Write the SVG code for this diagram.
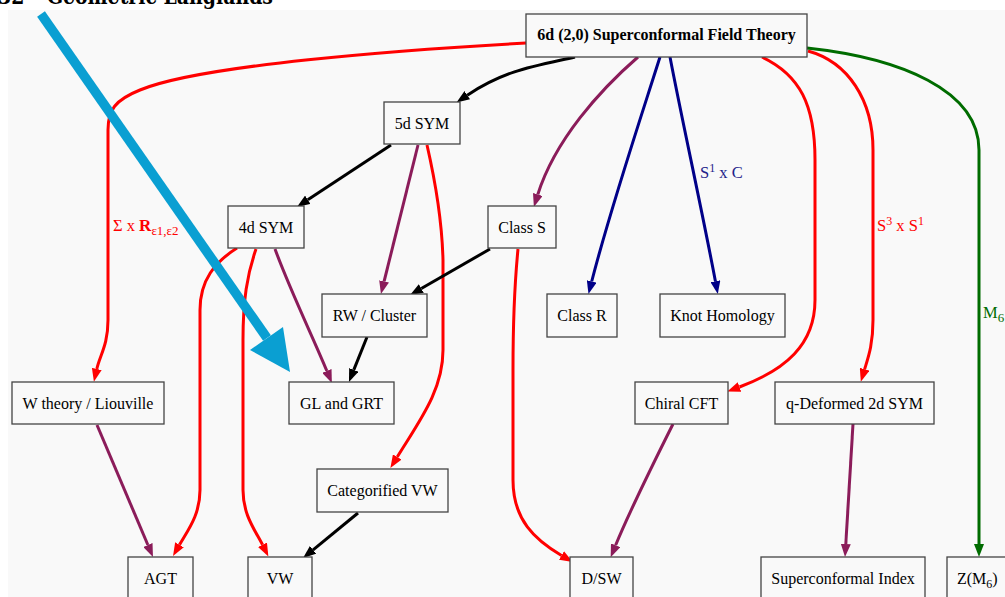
<svg xmlns="http://www.w3.org/2000/svg" width="1005" height="597" viewBox="0 0 1005 597">
<style>
.node rect{fill:#f9f9f9;stroke:#444;stroke-width:1.3}
.node text{font-family:"Liberation Serif","Times New Roman",serif;font-size:16px;fill:#000;text-anchor:middle}
.e{fill:none;stroke-width:3}
.red{stroke:#ff0000}.pur{stroke:#8b1c5a}.blk{stroke:#000}.nav{stroke:#000088}.grn{stroke:#006c00}
.lbl{font-family:"Liberation Serif","Times New Roman",serif;font-size:16.5px}
</style>
<defs>
<marker id="aR" viewBox="0 0 13 10" refX="0" refY="5" markerWidth="13" markerHeight="10" markerUnits="userSpaceOnUse" orient="auto"><path d="M0,0L13,5L0,10z" fill="#ff0000"/></marker>
<marker id="aP" viewBox="0 0 13 10" refX="0" refY="5" markerWidth="13" markerHeight="10" markerUnits="userSpaceOnUse" orient="auto"><path d="M0,0L13,5L0,10z" fill="#8b1c5a"/></marker>
<marker id="aK" viewBox="0 0 13 10" refX="0" refY="5" markerWidth="13" markerHeight="10" markerUnits="userSpaceOnUse" orient="auto"><path d="M0,0L13,5L0,10z" fill="#000"/></marker>
<marker id="aN" viewBox="0 0 13 10" refX="0" refY="5" markerWidth="13" markerHeight="10" markerUnits="userSpaceOnUse" orient="auto"><path d="M0,0L13,5L0,10z" fill="#000088"/></marker>
<marker id="aG" viewBox="0 0 13 10" refX="0" refY="5" markerWidth="13" markerHeight="10" markerUnits="userSpaceOnUse" orient="auto"><path d="M0,0L13,5L0,10z" fill="#006c00"/></marker>
</defs>
<rect x="0" y="0" width="1005" height="597" fill="#ffffff"/>
<rect x="8" y="10" width="997" height="587" fill="#f9f9f9"/>
<text x="-2" y="4" font-family="'DejaVu Serif',serif" font-weight="bold" font-size="22" textLength="275" lengthAdjust="spacingAndGlyphs">32 – Geometric Langlands</text>

<g id="connectors">
<path class="e red" marker-end="url(#aR)" d="M526,43 C400,50 200,65 140,90 C115,100 108,110 108,130 L108,320 C108,345 100,355 96.8,369"/>
<path class="e blk" marker-end="url(#aK)" d="M575,57 C535,66 505,70 467.3,95.2"/>
<path class="e pur" marker-end="url(#aP)" d="M638,57 C600,90 555,140 537.8,194.5"/>
<path class="e nav" marker-end="url(#aN)" d="M660,57 C640,120 610,210 591.7,281.5"/>
<path class="e nav" marker-end="url(#aN)" d="M670,57 C682,120 702,210 715.4,281.2"/>
<path class="e red" marker-end="url(#aR)" d="M762,57 C800,75 815,105 815,160 L815,300 C815,345 785,370 739.5,387"/>
<path class="e red" marker-end="url(#aR)" d="M808,51 C848,62 873,100 873,150 L873,320 C873,345 868,358 864.6,369.2"/>
<path class="e grn" marker-end="url(#aG)" d="M807,48 C900,58 979,90 979,150 L979,544"/>
<path class="e blk" marker-end="url(#aK)" d="M391,145 L307.8,199.8"/>
<path class="e pur" marker-end="url(#aP)" d="M418,145 L384.1,281.4"/>
<path class="e red" marker-end="url(#aR)" d="M427,145 C435,180 442,220 443,260 L443,350 C443,390 420,420 397.2,457"/>
<path class="e red" marker-end="url(#aR)" d="M237,248 C215,262 200,280 200,310 L200,490 C200,515 188,530 179.5,544.8"/>
<path class="e red" marker-end="url(#aR)" d="M256,249 C247,275 243,300 243,340 L243,490 C243,515 255,530 262.5,544.8"/>
<path class="e pur" marker-end="url(#aP)" d="M275,249 C290,290 312,335 326.9,371"/>
<path class="e blk" marker-end="url(#aK)" d="M490,249 L421.3,288.5"/>
<path class="e red" marker-end="url(#aR)" d="M518,249 C514,290 513,330 513,370 L513,480 C513,520 535,540 561.5,555.5"/>
<path class="e blk" marker-end="url(#aK)" d="M367,337 L353.8,369.9"/>
<path class="e pur" marker-end="url(#aP)" d="M97,425 L147.9,545"/>
<path class="e blk" marker-end="url(#aK)" d="M358,513 L313.1,549.8"/>
<path class="e pur" marker-end="url(#aP)" d="M673,424 C655,460 630,510 615.6,545.3"/>
<path class="e pur" marker-end="url(#aP)" d="M853,424 L845.8,544"/>
<text class="lbl" x="113" y="231" fill="#ff0000">Σ x <tspan font-weight="bold" font-size="17">R</tspan><tspan font-size="13" dy="4">ε1,ε2</tspan></text>
<text class="lbl" x="700" y="178" fill="#22228a">S<tspan font-size="12" dy="-6">1</tspan><tspan dy="6"> x C</tspan></text>
<text class="lbl" x="877" y="231" fill="#ff0000">S<tspan font-size="12" dy="-6">3</tspan><tspan dy="6"> x S</tspan><tspan font-size="12" dy="-6">1</tspan></text>
<text class="lbl" x="983" y="318" fill="#006c00">M<tspan font-size="13" dy="4">6</tspan></text>
</g>

<g id="n6d" class="node"><rect x="526" y="14" width="281" height="43"/><text x="666.5" y="40" font-weight="bold">6d (2,0) Superconformal Field Theory</text></g>
<g id="n5d" class="node"><rect x="384" y="102" width="76" height="42"/><text x="422" y="129">5d SYM</text></g>
<g id="n4d" class="node"><rect x="228" y="206" width="76" height="42"/><text x="266" y="233">4d SYM</text></g>
<g id="nClassS" class="node"><rect x="488" y="206" width="68" height="42"/><text x="522" y="233">Class S</text></g>
<g id="nClassR" class="node"><rect x="547" y="294" width="70" height="43"/><text x="582" y="321">Class R</text></g>
<g id="nKnot" class="node"><rect x="660" y="294" width="125" height="43"/><text x="722.5" y="321">Knot Homology</text></g>
<g id="nRW" class="node"><rect x="322" y="294" width="105" height="43"/><text x="374.5" y="321">RW / Cluster</text></g>
<g id="nGL" class="node"><rect x="289" y="382" width="105" height="42"/><text x="341.5" y="409">GL and GRT</text></g>
<g id="nW" class="node"><rect x="12" y="382" width="152" height="42"/><text x="88" y="409">W theory / Liouville</text></g>
<g id="nCatVW" class="node"><rect x="317" y="469" width="131" height="43"/><text x="382.5" y="496">Categorified VW</text></g>
<g id="nChiral" class="node"><rect x="635" y="382" width="93" height="42"/><text x="681.5" y="409">Chiral CFT</text></g>
<g id="nqDef" class="node"><rect x="775" y="382" width="159" height="42"/><text x="854.5" y="409">q-Deformed 2d SYM</text></g>
<g id="nAGT" class="node"><rect x="128" y="557" width="65" height="43"/><text x="160.5" y="584">AGT</text></g>
<g id="nVW" class="node"><rect x="248" y="557" width="64" height="43"/><text x="280" y="584">VW</text></g>
<g id="nDSW" class="node"><rect x="570" y="557" width="63" height="43"/><text x="601.5" y="584">D/SW</text></g>
<g id="nSCI" class="node"><rect x="761" y="557" width="164" height="43"/><text x="843" y="584">Superconformal Index</text></g>
<g id="nZ" class="node"><rect x="947" y="557" width="70" height="43"/><text x="957" y="584" style="text-anchor:start">Z(M<tspan font-size="12" dy="4">6</tspan><tspan dy="-4">)</tspan></text></g>

<g id="bluearrow">
<line x1="41" y1="14" x2="267" y2="338" stroke="#0a9fd2" stroke-width="9.5"/>
<path d="M250,350 L283,327 L290,372 z" fill="#0a9fd2"/>
</g>
</svg>
